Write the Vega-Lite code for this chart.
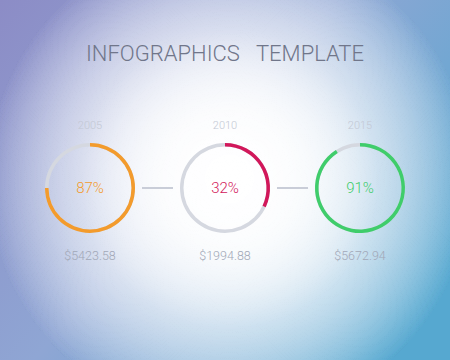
{
  "$schema": "https://vega.github.io/schema/vega-lite/v6.json",
  "width": 450,
  "height": 376,
  "autosize": {"type": "none"},
  "padding": 0,
  "background": "#a8b8dc",
  "view": {
    "stroke": null,
    "fill": {"gradient": "linear", "x1": 0, "y1": 0, "x2": 1, "y2": 0.7,
      "stops": [
        {"offset": 0, "color": "#8c8cc6"},
        {"offset": 0.5, "color": "#8fa6d4"},
        {"offset": 1, "color": "#56a8d0"}
      ]}
  },
  "title": {
    "text": "INFOGRAPHICS\u00a0\u00a0\u00a0TEMPLATE",
    "anchor": "middle",
    "orient": "top",
    "offset": -66,
    "font": "Roboto",
    "fontWeight": 300,
    "fontSize": 22,
    "color": "#70768a"
  },
  "data": {"values": [
    {"year": "2005", "pct": "87%", "arc": 75, "amount": "$5423.58"},
    {"year": "2010", "pct": "32%", "arc": 32, "amount": "$1994.88"},
    {"year": "2015", "pct": "91%", "arc": 91, "amount": "$5672.94"}
  ]},
  "layer": [
    {
      "mark": {"type": "rect", "fill": {"gradient": "radial", "x1": 0.51, "y1": 0.48, "r1": 0, "x2": 0.51, "y2": 0.48, "r2": 0.6,
        "stops": [
          {"offset": 0, "color": "rgba(255,255,255,0.92)"},
          {"offset": 0.25, "color": "rgba(255,255,255,0.68)"},
          {"offset": 0.55, "color": "rgba(255,255,255,0.3)"},
          {"offset": 0.9, "color": "rgba(255,255,255,0)"}
        ]}},
      "encoding": {}
    },
    {
      "data": {"values": [{"from": "2005", "to": "2010"}, {"from": "2010", "to": "2015"}]},
      "mark": {"type": "rule", "color": "#c9cdd8", "strokeWidth": 2, "strokeDash": [0, 52, 31, 60]},
      "encoding": {
        "x": {"field": "from", "type": "nominal", "scale": {"type": "point", "domain": ["2005", "2010", "2015"], "range": [0, 450], "padding": 0.6667}, "axis": null},
        "x2": {"field": "to"}
      }
    },
    {
      "mark": {"type": "arc", "radius": 45, "radius2": 41.5, "theta": 0, "theta2": 6.2832, "color": "#d5d8e0"},
      "encoding": {"x": {"field": "year", "type": "nominal", "axis": null}}
    },
    {
      "mark": {"type": "arc", "radius": 45, "radius2": 41.5},
      "encoding": {
        "x": {"field": "year", "type": "nominal", "axis": null},
        "theta": {"field": "arc", "type": "quantitative", "stack": null, "scale": {"domain": [0, 100], "range": [0, 6.2832]}},
        "theta2": {"datum": 0},
        "color": {"field": "year", "type": "nominal", "scale": {"domain": ["2005", "2010", "2015"], "range": ["#f39b2c", "#d2175a", "#3fcd6b"]}, "legend": null}
      }
    },
    {
      "mark": {"type": "text", "font": "Roboto", "fontWeight": 300, "fontSize": 15},
      "encoding": {
        "x": {"field": "year", "type": "nominal", "axis": null},
        "text": {"field": "pct"},
        "color": {"field": "year", "type": "nominal", "legend": null}
      }
    },
    {
      "mark": {"type": "text", "dy": -62, "font": "Roboto", "fontWeight": 300, "fontSize": 11, "color": "#c3c8d4"},
      "encoding": {
        "x": {"field": "year", "type": "nominal", "axis": null},
        "text": {"field": "year"}
      }
    },
    {
      "mark": {"type": "text", "dy": 68, "font": "Roboto", "fontWeight": 300, "fontSize": 12.5, "color": "#a2a8b8"},
      "encoding": {
        "x": {"field": "year", "type": "nominal", "axis": null},
        "text": {"field": "amount"}
      }
    }
  ]
}
